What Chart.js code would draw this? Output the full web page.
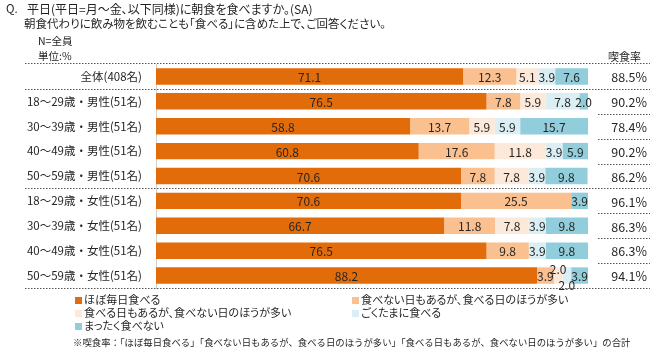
<!DOCTYPE html>
<html><head><meta charset="utf-8">
<script src="https://cdn.jsdelivr.net/npm/chart.js@4/dist/chart.umd.min.js"></script>
<style>
html,body{margin:0;padding:0;background:#fff;}
#wrap{position:relative;width:650px;height:353px;overflow:hidden;font-family:"Noto Sans CJK JP",sans-serif;color:#1f1f1f;}
#wrap canvas{position:absolute;left:0;top:0;}
.t{position:absolute;white-space:nowrap;font-feature-settings:"palt";}
.lg{position:absolute;white-space:nowrap;font-size:11px;line-height:13px;font-feature-settings:"palt";}
.lg i{display:inline-block;width:7px;height:7px;margin-right:2px;vertical-align:0px;}
</style></head><body>
<div id="wrap">
<canvas id="c" width="650" height="353"></canvas>
<div class="t" style="left:6px;top:1px;font-size:11.5px;line-height:15px">Q.</div>
<div class="t" style="left:27px;top:1px;font-size:12px;line-height:15px">平日(平日=月～金、以下同様)に朝食を食べますか。(SA)</div>
<div class="t" style="left:24px;top:16px;font-size:11.5px;line-height:15px">朝食代わりに飲み物を飲むことも「食べる」に含めた上で、ご回答ください。</div>
<div class="t" style="left:38px;top:34px;font-size:10.5px;line-height:14px">N=全員</div>
<div class="t" style="left:38px;top:49px;font-size:10.5px;line-height:14px">単位:%</div>
<div class="t" style="left:608px;top:49px;font-size:11px;line-height:14px">喫食率</div>
<div id="legend"></div>
<div class="t" id="note" style="left:73px;top:336px;font-size:9.4px;line-height:13px;font-feature-settings:normal">※喫食率：「ほぼ毎日食べる」「食べない日もあるが、食べる日のほうが多い」「食べる日もあるが、食べない日のほうが多い」の合計</div>
</div>
<script>
const categories = ['全体(408名)','18～29歳・男性(51名)','30～39歳・男性(51名)','40～49歳・男性(51名)','50～59歳・男性(51名)','18～29歳・女性(51名)','30～39歳・女性(51名)','40～49歳・女性(51名)','50～59歳・女性(51名)'];
const seriesNames = ['ほぼ毎日食べる','食べない日もあるが、食べる日のほうが多い','食べる日もあるが、食べない日のほうが多い','ごくたまに食べる','まったく食べない'];
const almostEveryDay = [71.1,76.5,58.8,60.8,70.6,70.6,66.7,76.5,88.2];
const skipSomeDays   = [12.3,7.8,13.7,17.6,7.8,25.5,11.8,9.8,3.9];
const eatSomeDays    = [5.1,5.9,5.9,11.8,7.8,0,7.8,0,2.0];
const rarelyEat      = [3.9,7.8,5.9,3.9,3.9,0,3.9,3.9,2.0];
const neverEat       = [7.6,2.0,15.7,5.9,9.8,3.9,9.8,9.8,3.9];
const eatingRate     = [88.5,90.2,78.4,90.2,86.2,96.1,86.3,86.3,94.1];

const colors = ['#E36C0A','#FAC090','#FDE9D9','#DAEEF3','#92CDDC'];
const seriesData = [almostEveryDay, skipSomeDays, eatSomeDays, rarelyEat, neverEat];
const FONT = '"Noto Sans CJK JP", sans-serif';

// legend (HTML)
const legendPos = [[75,293],[352,293],[75,306],[352,306],[75,319]];
const lg = document.getElementById('legend');
seriesNames.forEach((n,i)=>{
  const d=document.createElement('div'); d.className='lg';
  d.style.left=legendPos[i][0]+'px'; d.style.top=legendPos[i][1]+'px';
  d.innerHTML='<i style="background:'+colors[i]+'"></i>'+n;
  lg.appendChild(d);
});

const groupEnds = [0,4];
const decor = {
  id:'decor',
  afterDatasetsDraw(chart){
    const ctx=chart.ctx, ca=chart.chartArea, ys=chart.scales.y;
    ctx.save();
    ctx.font='12px '+FONT; ctx.fillStyle='#262626';
    ctx.textAlign='center'; ctx.textBaseline='middle';
    chart.data.datasets.forEach((ds,di)=>{
      const meta=chart.getDatasetMeta(di);
      meta.data.forEach((el,i)=>{
        const v=ds.data[i]; if(!v) return;
        const p=el.getProps(['x','base','y'],true);
        let dy=1;
        if(i===8&&di===2) dy=-6;
        if(i===8&&di===3) dy=10;
        ctx.fillText(v.toFixed(1),(p.x+p.base)/2,p.y+dy);
      });
    });
    ctx.font='12.5px '+FONT; ctx.textAlign='right';
    eatingRate.forEach((v,i)=>{
      ctx.fillText(v.toFixed(1)+'%',647,ys.getPixelForValue(i)+1);
    });
    // dotted separators
    ctx.strokeStyle='#555'; ctx.lineWidth=1.2; ctx.setLineDash([1.5,1.5]);
    const line=(x1,x2,y)=>{y=Math.round(y)+0.5;ctx.beginPath();ctx.moveTo(x1,y);ctx.lineTo(x2,y);ctx.stroke();};
    line(25,650,ca.top-1);
    for(let i=0;i<categories.length-1;i++){
      const y=(ys.getPixelForValue(i)+ys.getPixelForValue(i+1))/2;
      if(groupEnds.includes(i)) line(25,650,y); else line(598,650,y);
    }
    line(25,650,ca.bottom);
    ctx.restore();
  }
};

new Chart(document.getElementById('c'),{
  type:'bar',
  data:{
    labels:categories,
    datasets:seriesData.map((d,i)=>({label:seriesNames[i],data:d,backgroundColor:colors[i],borderWidth:0,barPercentage:0.66,categoryPercentage:1}))
  },
  options:{
    responsive:false, animation:false, indexAxis:'y',
    layout:{padding:{left:0,top:64,right:62,bottom:65}},
    plugins:{legend:{display:false},tooltip:{enabled:false}},
    scales:{
      x:{stacked:true,min:0,max:100,display:false},
      y:{stacked:true,grid:{display:false,drawTicks:false},border:{display:true,color:'#d0d0d0'},
         ticks:{font:{family:FONT,size:11.5},color:'#262626',padding:14},
         afterFit(s){s.width=156;}}
    }
  },
  plugins:[decor]
});
</script>
</body></html>
